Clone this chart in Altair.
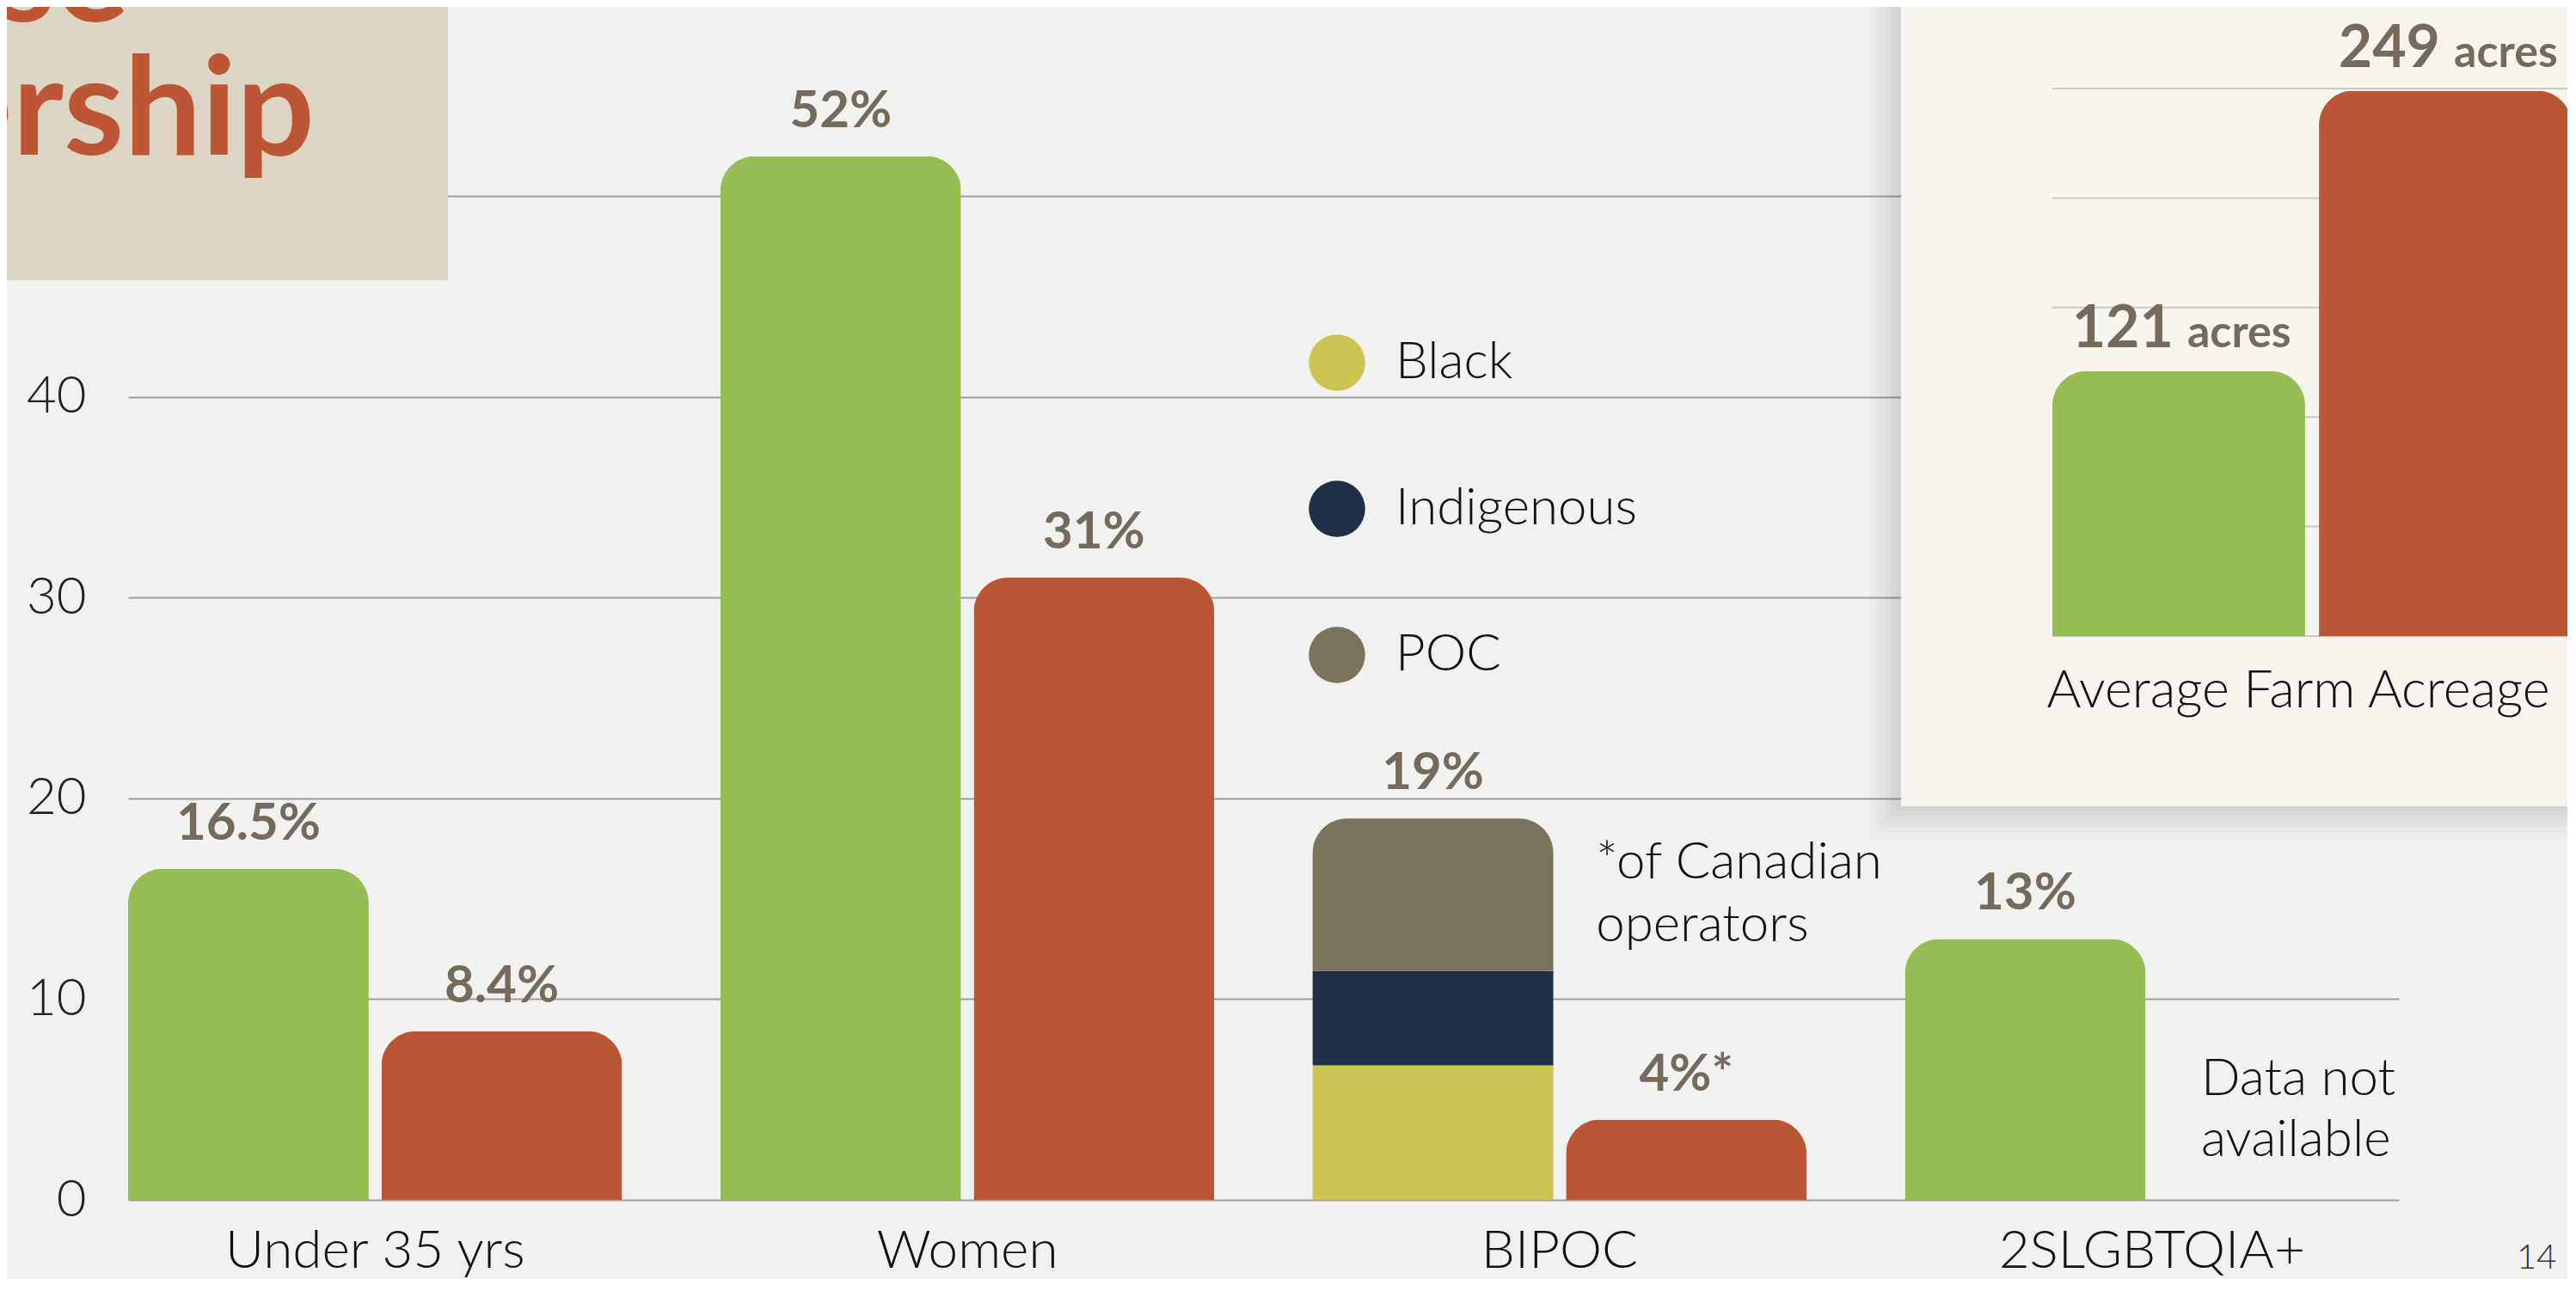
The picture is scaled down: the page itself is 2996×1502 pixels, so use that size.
import altair as alt
import pandas as pd
import numpy as np

# ---------------- data ----------------
groups = ["Under 35 yrs", "Women", "BIPOC", "2SLGBTQIA+"]
series = ["Survey", "Canada"]
survey_values = [16.5, 52, 19, 13]
canada_values = [8.4, 31, 4, None]
survey_labels = ["16.5%", "52%", "19%", "13%"]
canada_labels = ["8.4%", "31%", "4%*", None]

bipoc_segments = ["Black", "Indigenous", "POC"]
bipoc_values = [6.7, 4.7, 7.6]

y_ticks = [0, 10, 20, 30, 40, 50]

farm_series = ["Survey", "Canada"]
farm_acres = [121, 249]
farm_numbers = ["121", "249"]
farm_ticks = [0, 50, 100, 150, 200, 250]

# ---------------- styling ----------------
GREEN = "#95bd53"
RED = "#ba5535"
SEG_COLORS = ["#cbc452", "#1f3048", "#79745b"]
LABEL_BROWN = "#766a5c"
TITLE_ORANGE = "#bd5635"
FONT = "Lato"

# ---------------- tables ----------------
bar_rows = []
for g, v in zip(groups, survey_values):
    if g != "BIPOC":
        bar_rows.append({"group": g, "series": "Survey", "value": v})
for g, v in zip(groups, canada_values):
    if v is not None:
        bar_rows.append({"group": g, "series": "Canada", "value": v})
bars_df = pd.DataFrame(bar_rows)

ends = list(np.cumsum(bipoc_values))
starts = [0.0] + ends[:-1]
stack_df = pd.DataFrame({
    "group": "BIPOC", "series": "Survey",
    "segment": bipoc_segments, "start": starts, "end": ends,
})

lab_rows = []
for g, v, t in zip(groups, survey_values, survey_labels):
    lab_rows.append({"group": g, "series": "Survey", "value": v, "label": t})
for g, v, t in zip(groups, canada_values, canada_labels):
    if v is not None:
        lab_rows.append({"group": g, "series": "Canada", "value": v, "label": t})
labels_df = pd.DataFrame(lab_rows)

note1_df = pd.DataFrame([{"group": "BIPOC", "series": "Canada", "y": 16.8,
                          "text": "*of Canadian\noperators"}])
note2_df = pd.DataFrame([{"group": "2SLGBTQIA+", "series": "Canada", "y": 6.0,
                          "text": "Data not\navailable"}])

farm_df = pd.DataFrame({"series": farm_series, "acres": farm_acres, "num": farm_numbers})
farm_ticks_df = pd.DataFrame({"tick": farm_ticks})

# ---------------- main chart encodings ----------------
x_main = alt.X("group:N", sort=groups,
               scale=alt.Scale(domain=groups, paddingInner=0.166, paddingOuter=0),
               axis=alt.Axis(orient="bottom", domain=False, ticks=False, labelAngle=0,
                             labelFont=FONT, labelFontSize=62, labelFontWeight=300,
                             labelColor="#111111", labelPadding=29, labelLimit=800,
                             title=None))
xoff = alt.XOffset("series:N", scale=alt.Scale(domain=series, paddingInner=0.05, paddingOuter=0))
y_scale = alt.Scale(domain=[0, 59.44], nice=False, zero=True)
y_axis = alt.Axis(orient="left", values=y_ticks, grid=True, gridColor="#9d9d9d",
                  gridWidth=2, domain=False, ticks=False, labelFont=FONT,
                  labelFontSize=60, labelFontWeight=300, labelColor="#222222",
                  labelPadding=49, title=None)

survey_bars = alt.Chart(bars_df).transform_filter(alt.datum.series == "Survey").mark_bar(
    cornerRadiusTopLeft=40, cornerRadiusTopRight=40, color=GREEN
).encode(x=x_main, xOffset=xoff, y=alt.Y("value:Q", scale=y_scale, axis=y_axis))

canada_bars = alt.Chart(bars_df).transform_filter(alt.datum.series == "Canada").mark_bar(
    cornerRadiusTopLeft=40, cornerRadiusTopRight=40, color=RED
).encode(x=x_main, xOffset=xoff, y=alt.Y("value:Q", scale=y_scale, axis=y_axis))

seg_scale = alt.Scale(domain=bipoc_segments, range=SEG_COLORS)
seg_legend = alt.Legend(orient="none", legendX=1373, legendY=381, direction="vertical",
                        title=None, symbolType="circle", symbolSize=4300,
                        symbolStrokeWidth=0, symbolOpacity=1, labelFont=FONT,
                        labelFontSize=60, labelFontWeight=300, labelColor="#111111",
                        rowPadding=104, labelOffset=35, padding=0, labelLimit=800)

stack_low = alt.Chart(stack_df).transform_filter(alt.datum.segment != "POC").mark_bar().encode(
    x=x_main, xOffset=xoff,
    y=alt.Y("start:Q", scale=y_scale, axis=y_axis), y2="end:Q",
    color=alt.Color("segment:N", scale=seg_scale, legend=seg_legend),
)
stack_top = alt.Chart(stack_df).transform_filter(alt.datum.segment == "POC").mark_bar(
    cornerRadiusTopLeft=40, cornerRadiusTopRight=40
).encode(
    x=x_main, xOffset=xoff,
    y=alt.Y("start:Q", scale=y_scale, axis=y_axis), y2="end:Q",
    color=alt.Color("segment:N", scale=seg_scale, legend=seg_legend),
)

value_labels = alt.Chart(labels_df).mark_text(
    font=FONT, fontSize=60, fontWeight=700, color=LABEL_BROWN,
    baseline="alphabetic", dy=-34
).encode(x=x_main, xOffset=xoff, y=alt.Y("value:Q", scale=y_scale, axis=y_axis),
         text="label:N")

note1 = alt.Chart(note1_df).mark_text(
    font=FONT, fontSize=60, fontWeight=300, color="#111111", align="left",
    baseline="middle", lineBreak="\n", lineHeight=73, dx=-105
).encode(x=x_main, xOffset=xoff, y=alt.Y("y:Q", scale=y_scale, axis=y_axis), text="text:N")

note2 = alt.Chart(note2_df).mark_text(
    font=FONT, fontSize=60, fontWeight=300, color="#111111", align="left",
    baseline="middle", lineBreak="\n", lineHeight=71, dx=-90
).encode(x=x_main, xOffset=xoff, y=alt.Y("y:Q", scale=y_scale, axis=y_axis), text="text:N")

main = alt.layer(survey_bars, canada_bars, stack_low, stack_top, value_labels, note1, note2)

# ---------------- inset (average farm acreage) ----------------
x_in = alt.X("series:N", sort=farm_series,
             scale=alt.Scale(domain=farm_series, range=[2238, 2842],
                             paddingInner=0.052, paddingOuter=0), axis=None)
y_in_scale = alt.Scale(domain=[0, 250], range=[732, 95], nice=False)

inset_grid = alt.Chart(farm_ticks_df).mark_rule(color="#c9c7c2", strokeWidth=2).encode(
    y=alt.Y("tick:Q", scale=y_in_scale, axis=None),
    x=alt.value(2238), x2=alt.value(2860),
)
inset_bars = alt.Chart(farm_df).mark_bar(cornerRadiusTopLeft=40, cornerRadiusTopRight=40).encode(
    x=x_in, y=alt.Y("acres:Q", scale=y_in_scale, axis=None),
    color=alt.Color("series:N", scale=alt.Scale(domain=farm_series, range=[GREEN, RED]), legend=None),
)
inset_num = alt.Chart(farm_df).mark_text(
    font=FONT, fontSize=68, fontWeight=700, color=LABEL_BROWN, align="right",
    baseline="alphabetic", dx=-6, dy=-28
).encode(x=x_in, y=alt.Y("acres:Q", scale=y_in_scale, axis=None), text="num:N")
inset_unit = alt.Chart(farm_df).mark_text(
    font=FONT, fontSize=52, fontWeight=700, color=LABEL_BROWN, align="left",
    baseline="alphabetic", dx=10, dy=-28
).encode(x=x_in, y=alt.Y("acres:Q", scale=y_in_scale, axis=None), text=alt.value("acres"))
inset_title = alt.Chart(alt.Data(values=[{}])).mark_text(
    font=FONT, fontSize=61, fontWeight=300, color="#111111", align="center", baseline="middle"
).encode(x=alt.value(2524), y=alt.value(797), text=alt.value("Average Farm Acreage"))

inset = alt.layer(inset_grid, inset_bars, inset_num, inset_unit, inset_title)

# ---------------- decorations ----------------
one = alt.Data(values=[{}])
title_paper = alt.Chart(one).mark_rect(color="#ddd5c4").encode(
    x=alt.value(-150), x2=alt.value(372), y=alt.value(-10), y2=alt.value(318))
title_se = alt.Chart(one).mark_text(
    font=FONT, fontSize=160, fontWeight=700, color=TITLE_ORANGE, align="right", baseline="alphabetic"
).encode(x=alt.value(1), y=alt.value(17), text=alt.value("se"))
title_ership = alt.Chart(one).mark_text(
    font=FONT, fontSize=160, fontWeight=700, color=TITLE_ORANGE, align="right", baseline="alphabetic"
).encode(x=alt.value(217), y=alt.value(172), text=alt.value("ership"))

# soft shadow around the inset paper: several faint, growing rectangles
shadow_layers = []
for grow in [6, 12, 18, 24, 30, 38]:
    shadow_layers.append(
        alt.Chart(one).mark_rect(color="#000000", opacity=0.018).encode(
            x=alt.value(2062 - grow), x2=alt.value(2860),
            y=alt.value(-10), y2=alt.value(930 + grow))
    )
inset_paper = alt.Chart(one).mark_rect(color="#f8f5ef").encode(
    x=alt.value(2062), x2=alt.value(2860), y=alt.value(-10), y2=alt.value(930))

page_num = alt.Chart(one).mark_text(
    font=FONT, fontSize=40, fontWeight=300, color="#333333", align="left", baseline="top"
).encode(x=alt.value(2778), y=alt.value(1436), text=alt.value("14"))

chart = alt.layer(
    title_paper, title_se, title_ership, *shadow_layers, inset_paper, main, inset, page_num
).resolve_scale(
    x="independent", y="independent", color="independent"
).properties(
    width=2641, height=1388,
    padding={"left": 141, "top": 0, "right": 196, "bottom": 92},
    autosize=alt.AutoSizeParams(type="none"),
    background="#f1f1ef",
).configure_view(stroke=None)

chart.save("out.html", embed_options={"renderer": "svg", "actions": False})
